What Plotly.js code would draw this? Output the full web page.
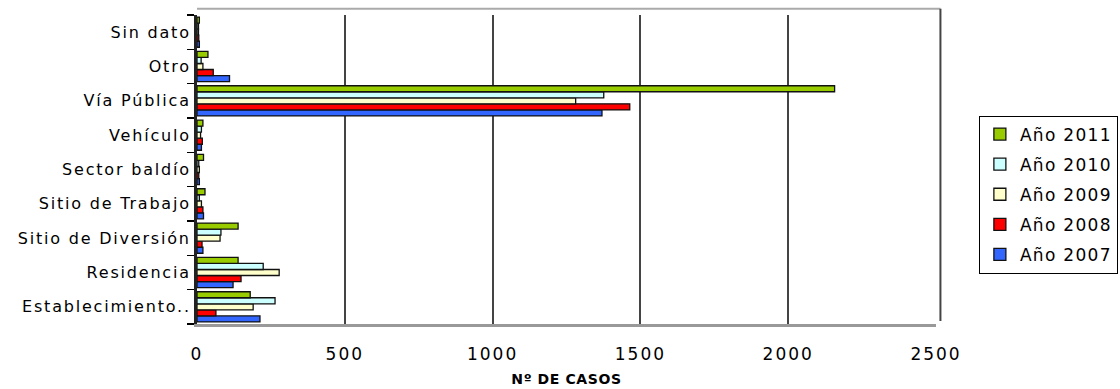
<!DOCTYPE html>
<html>
<head>
<meta charset="utf-8">
<script src="https://cdn.plot.ly/plotly-3.0.1.min.js"></script>
<style>
html,body{margin:0;padding:0;background:#fff;}
#chart{width:1120px;height:389px;}
.ytick text{letter-spacing:1.8px;}
.xtick text{letter-spacing:2px;}
text.legendtext{letter-spacing:1.3px;}
.g-xtitle text{letter-spacing:0.6px;}
</style>
</head>
<body>
<div id="chart"></div>
<script>
const categories = ["Establecimiento..", "Residencia", "Sitio de Diversión", "Sitio de Trabajo", "Sector baldío", "Vehículo", "Vía Pública", "Otro", "Sin dato"];
const years = ["Año 2007", "Año 2008", "Año 2009", "Año 2010", "Año 2011"];
const v2007 = [213, 122, 20, 22, 8, 15, 1370, 110, 8];
const v2008 = [64, 149, 17, 20, 6, 18, 1464, 55, 6];
const v2009 = [190, 278, 78, 15, 8, 12, 1281, 20, 5];
const v2010 = [264, 224, 81, 8, 6, 15, 1376, 14, 5];
const v2011 = [180, 139, 139, 27, 22, 20, 2157, 37, 8];
const colors = ["#3366FF", "#FF0000", "#FFFFCC", "#CCFFFF", "#99CC00"];
const xTicks = [0, 500, 1000, 1500, 2000, 2500];

const series = [v2007, v2008, v2009, v2010, v2011];
const traces = series.map((vals, i) => ({
  type: "bar",
  orientation: "h",
  name: years[i],
  legendgroup: "g" + i,
  legendrank: series.length - i,
  y: categories,
  x: vals,
  marker: {color: colors[i], line: {color: "#111", width: 1.3}}
}));

const F = "DejaVu Sans, Liberation Sans, Arial, sans-serif";
const layout = {
  width: 1120, height: 389,
  margin: {l: 197, r: 184, t: 15, b: 65},
  paper_bgcolor: "#fff", plot_bgcolor: "#fff",
  barmode: "group", bargap: 0.12, bargroupgap: 0,
  font: {family: F, color: "#000", size: 16},
  showlegend: true,
  legend: {
    xref: "container", yref: "container",
    x: 0.874, xanchor: "left", y: 0.5, yanchor: "middle",
    traceorder: "grouped", tracegroupgap: 5,
    bordercolor: "#000", borderwidth: 1, bgcolor: "#fff",
    font: {size: 17, family: F},
    itemwidth: 30
  },
  xaxis: {
    range: [0, 2500],
    tickvals: xTicks, ticktext: xTicks.map(String),
    showgrid: true, gridcolor: "#444", gridwidth: 2,
    zeroline: false,
    showline: true, linecolor: "#999", linewidth: 3,
    ticks: "outside", ticklen: 13, tickcolor: "rgba(0,0,0,0)",
    tickfont: {size: 17, family: F},
    title: {text: "<b>Nº DE CASOS</b>", font: {size: 14, family: F}, standoff: 11}
  },
  yaxis: {
    type: "category",
    showgrid: false, zeroline: false,
    showline: true, linecolor: "#222", linewidth: 3,
    ticks: "outside", tickson: "boundaries", ticklen: 7, tickcolor: "#000", tickwidth: 1.5,
    tickfont: {size: 16, family: F}
  },
  shapes: [
    {type: "line", xref: "paper", yref: "paper", x0: 0, x1: 1.006, y0: 1.02, y1: 1.02, line: {color: "#aaa", width: 2}},
    {type: "line", xref: "paper", yref: "paper", x0: 1.006, x1: 1.006, y0: 0.01, y1: 1.02, line: {color: "#444", width: 2}}
  ]
};

Plotly.newPlot("chart", traces, layout, {staticPlot: true, displayModeBar: false});
</script>
</body>
</html>
